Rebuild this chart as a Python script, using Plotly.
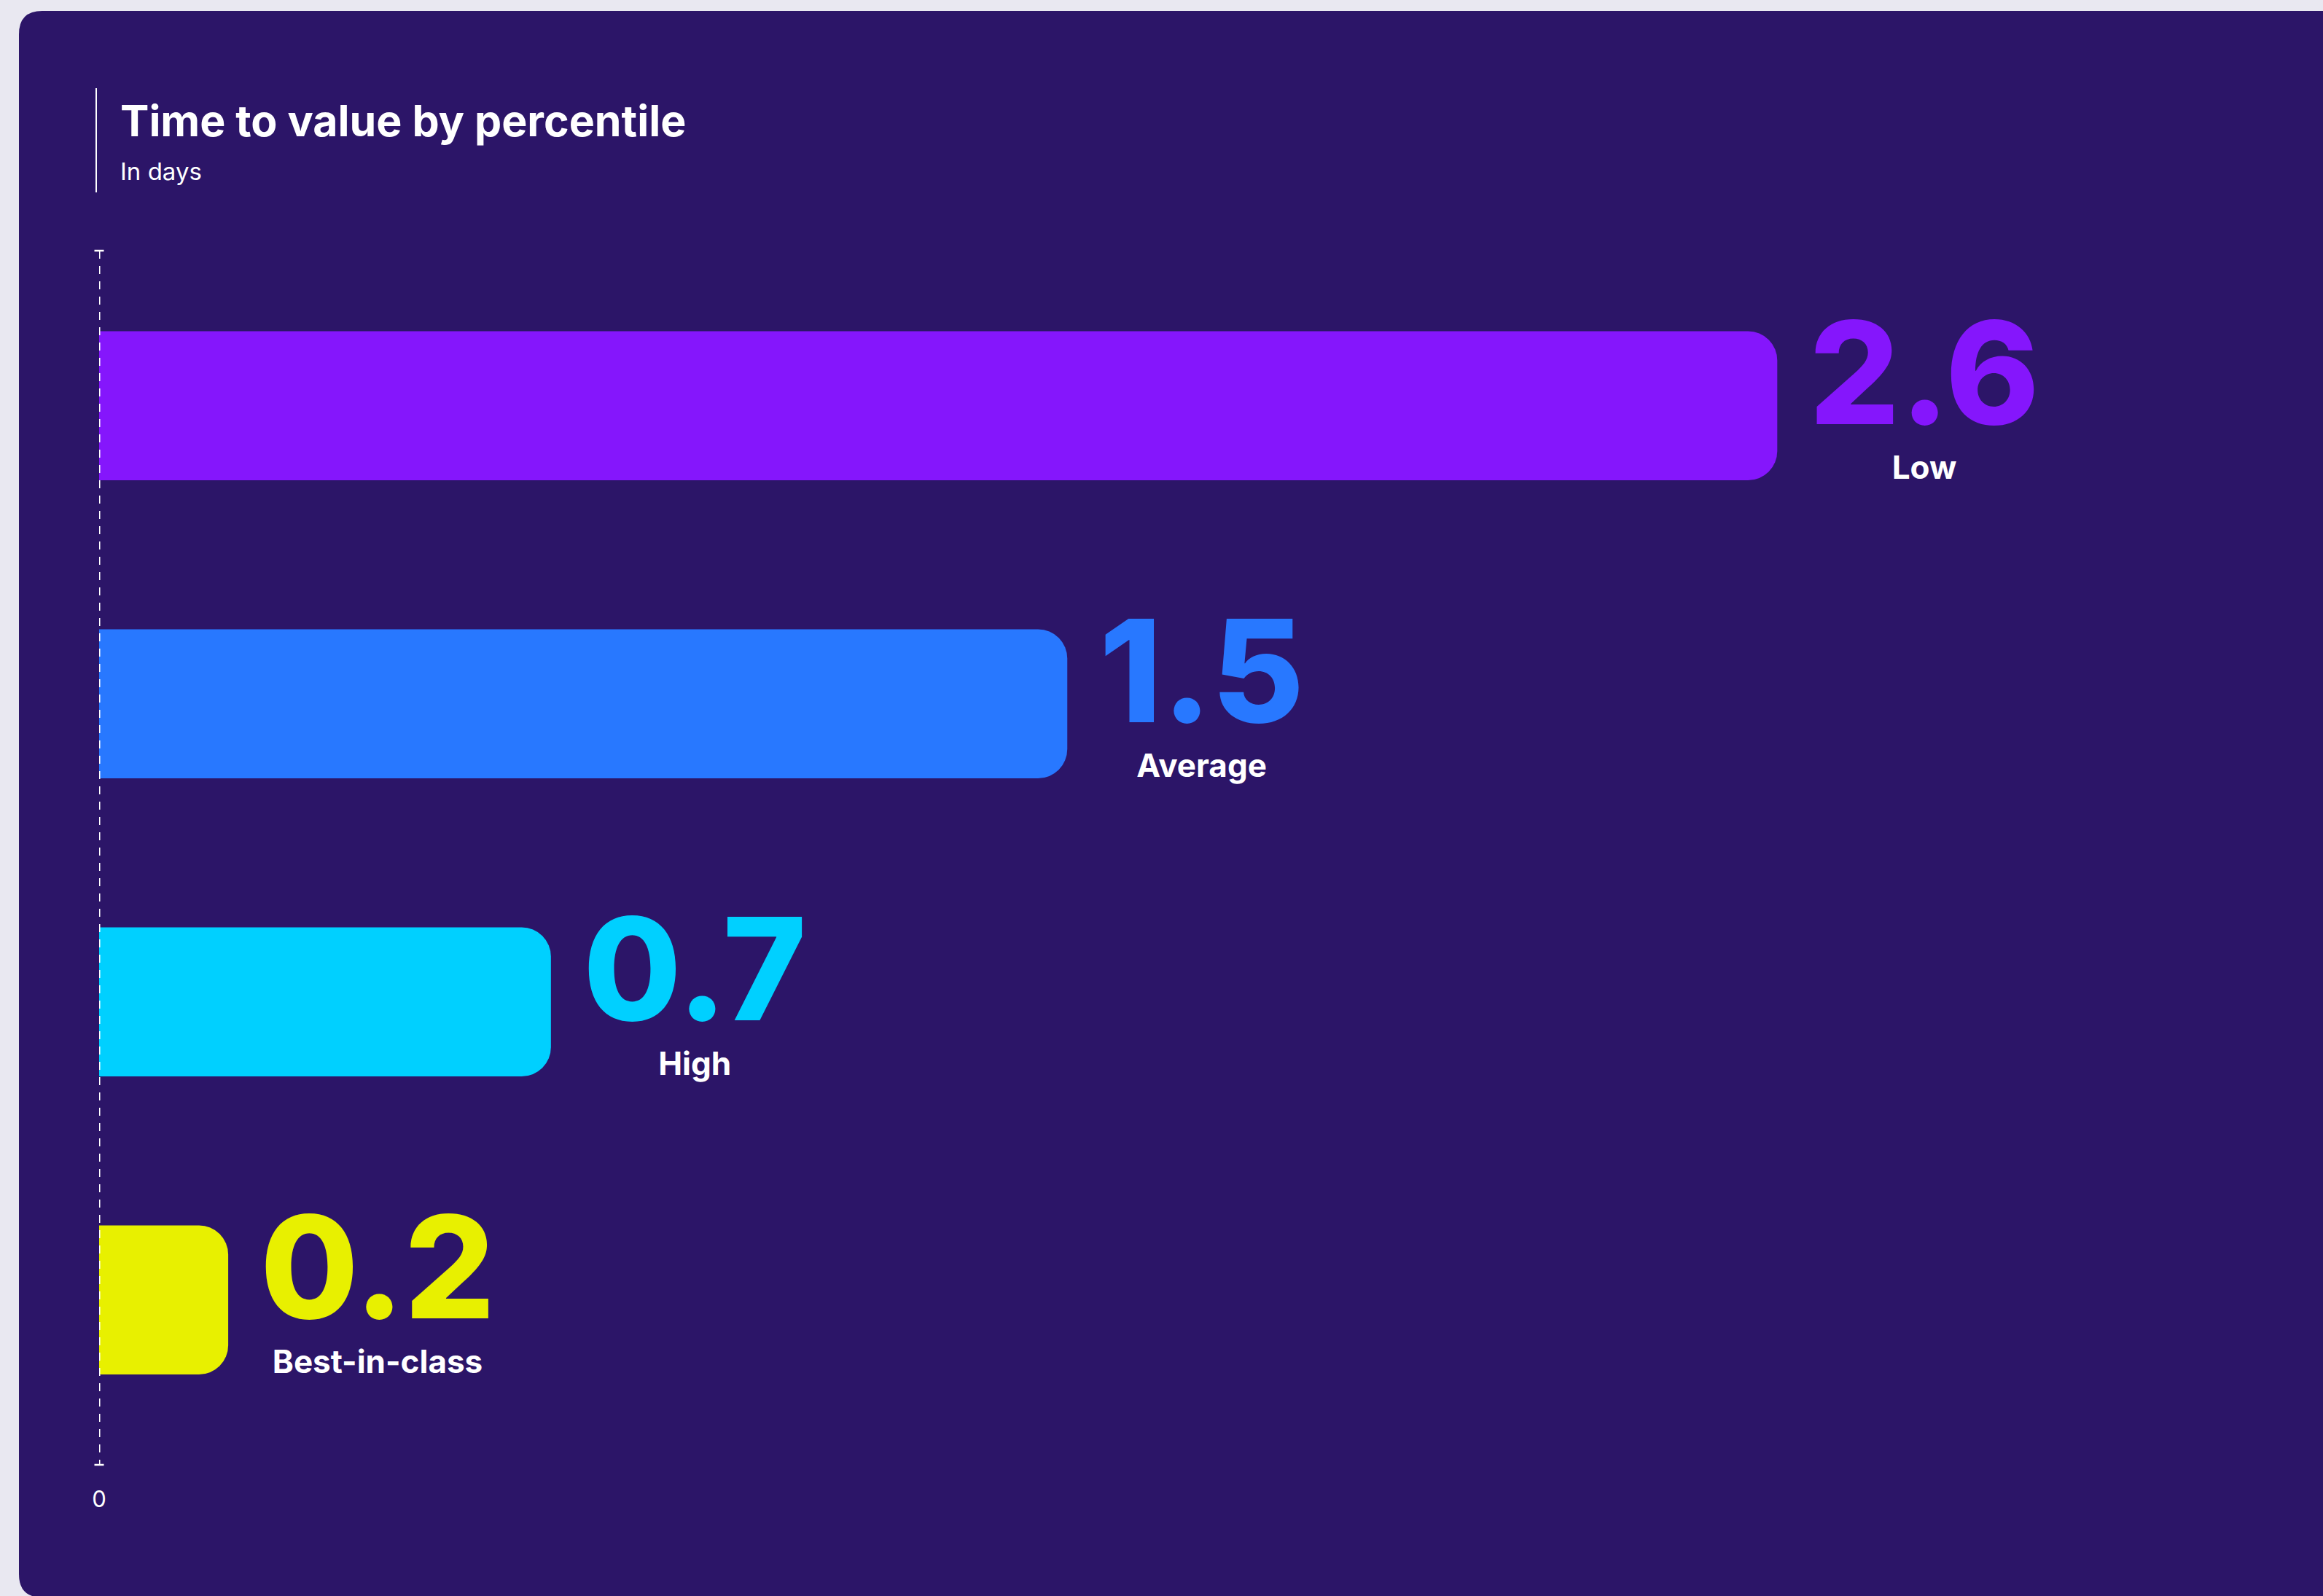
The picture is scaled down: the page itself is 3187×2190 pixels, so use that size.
import plotly.graph_objects as go

# ---- data ----
categories = ["Low", "Average", "High", "Best-in-class"]
values = [2.6, 1.5, 0.7, 0.2]
value_labels = ["2.6", "1.5", "0.7", "0.2"]
bar_colors = ["#8516FC", "#2878FF", "#00D0FF", "#E8F000"]

title_text = "Time to value by percentile"
subtitle_text = "In days"

# ---- canvas geometry (pixels) ----
W, H = 3187, 2190
PANEL_BG = "#2C1568"
PAGE_BG = "#E9E8F1"
FONT = "Inter"


def fx(p):
    return p / W


def fy(p):
    return 1 - p / H


axis_x = 136          # pixel where value 0 sits
axis_top, axis_bottom = 344, 2010
px_per_unit = 885.5
x_max = (W - axis_x) / px_per_unit

fig = go.Figure()

fig.add_trace(go.Bar(
    x=values,
    y=categories,
    orientation="h",
    width=0.5,
    marker=dict(color=bar_colors, cornerradius=40, line=dict(width=0)),
    hoverinfo="skip",
    showlegend=False,
))

# rounded dark panel behind the chart
L, T, R, B, r = 26, 15, 3240, 2192, 32
rx, ry = r / W, r / H
panel_path = (
    f"M {fx(L)},{fy(T) - ry} "
    f"Q {fx(L)},{fy(T)} {fx(L) + rx},{fy(T)} "
    f"L {fx(R)},{fy(T)} L {fx(R)},{fy(B)} "
    f"L {fx(L) + rx},{fy(B)} "
    f"Q {fx(L)},{fy(B)} {fx(L)},{fy(B) + ry} Z"
)

shapes = [
    dict(type="path", path=panel_path, xref="paper", yref="paper",
         fillcolor=PANEL_BG, line=dict(width=0), layer="below"),
    # accent rule beside the title block
    dict(type="line", xref="paper", yref="paper",
         x0=fx(132), x1=fx(132), y0=fy(121), y1=fy(264),
         line=dict(color="white", width=2)),
    # dashed zero baseline
    dict(type="line", xref="x", yref="paper",
         x0=0, x1=0, y0=fy(axis_top), y1=fy(axis_bottom),
         line=dict(color="white", width=3, dash="11px,10px"), layer="above"),
    # end caps of the baseline
    dict(type="line", xref="paper", yref="paper",
         x0=fx(axis_x - 6.5), x1=fx(axis_x + 6.5), y0=fy(axis_top), y1=fy(axis_top),
         line=dict(color="white", width=2.5), layer="above"),
    dict(type="line", xref="paper", yref="paper",
         x0=fx(axis_x - 6.5), x1=fx(axis_x + 6.5), y0=fy(axis_bottom), y1=fy(axis_bottom),
         line=dict(color="white", width=2.5), layer="above"),
]

annotations = [
    dict(text=f"<b>{title_text}</b>", xref="paper", yref="paper",
         x=fx(163), y=fy(128), xanchor="left", yanchor="top", showarrow=False,
         font=dict(family=FONT, size=59, color="white")),
    dict(text=subtitle_text, xref="paper", yref="paper",
         x=fx(163), y=fy(213), xanchor="left", yanchor="top", showarrow=False,
         font=dict(family=FONT, size=33, color="white")),
]

# value in the bar colour with the percentile name centred beneath it
for cat, val, lab, col in zip(categories, values, value_labels, bar_colors):
    txt = (f'<span style="font-size:195px;font-weight:800;color:{col}">{lab}</span>'
           f'<br><span style="font-size:44px;font-weight:700;color:#FFFFFF">{cat}</span>')
    annotations.append(dict(
        text=txt, x=val, y=cat, xref="x", yref="y",
        xanchor="left", yanchor="middle", align="center",
        xshift=42, yshift=26, showarrow=False,
        font=dict(family=FONT, size=58, color="white"),
    ))

fig.update_layout(
    width=W, height=H, autosize=False,
    margin=dict(l=0, r=0, t=0, b=0, pad=0, autoexpand=False),
    paper_bgcolor=PAGE_BG,
    plot_bgcolor="rgba(0,0,0,0)",
    shapes=shapes,
    annotations=annotations,
    xaxis=dict(
        domain=[fx(axis_x), 1], range=[0, x_max],
        automargin=False,
        showgrid=False, zeroline=False, showline=False,
        tickvals=[0], ticktext=["0"], ticks="",
        ticklabelstandoff=26,
        tickfont=dict(family=FONT, size=31, color="white"),
        fixedrange=True,
    ),
    yaxis=dict(
        domain=[fy(axis_bottom), fy(axis_top)],
        automargin=False,
        type="category", categoryarray=categories,
        range=[3.553, -0.520],
        showgrid=False, zeroline=False, showline=False,
        showticklabels=False, fixedrange=True,
    ),
    bargap=0.5,
)

fig.write_html(
    "out.html",
    config={"displayModeBar": False},
    post_script="document.body.style.margin='0';",
)
